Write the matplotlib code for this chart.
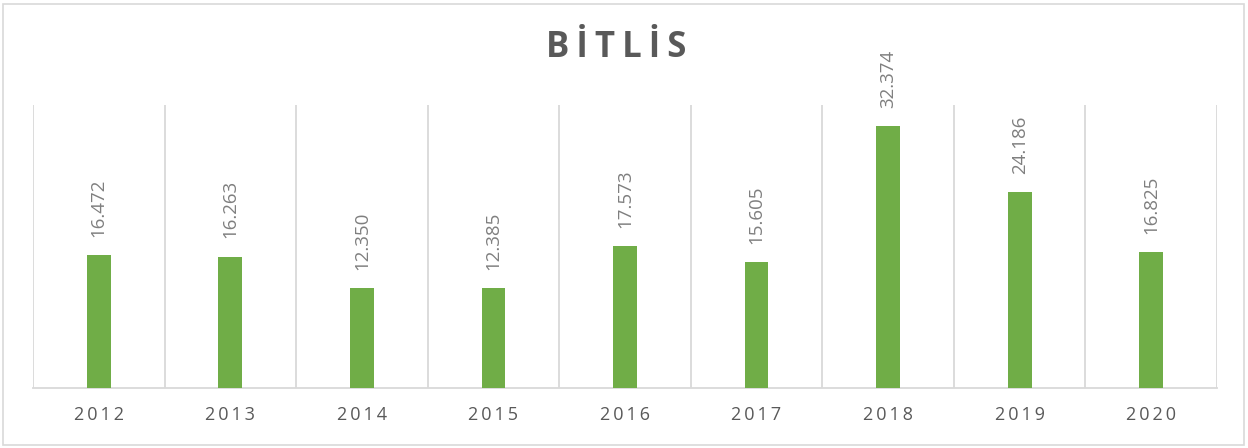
import numpy as np
import matplotlib.pyplot as plt
from matplotlib.patches import Rectangle

# -------------------- DATA --------------------
years = ["2012", "2013", "2014", "2015", "2016", "2017", "2018", "2019", "2020"]
values = [16.472, 16.263, 12.350, 12.385, 17.573, 15.605, 32.374, 24.186, 16.825]
labels = ["16.472", "16.263", "12.350", "12.385", "17.573", "15.605", "32.374", "24.186", "16.825"]

plt.rcParams.update({
    "font.family": ["Open Sans", "DejaVu Sans"],
})

fig = plt.figure(figsize=(12.48, 4.48), dpi=100)
ax = fig.add_axes([33/1248, 60/448, 1184/1248, 283/448])

# outer chart border
fig.patches.append(Rectangle((3/1248, 3/448), 1241/1248, 441/448,
                             transform=fig.transFigure, fill=False,
                             edgecolor="#d9d9d9", linewidth=1.2))

x = np.arange(len(years))
ax.bar(x, values, width=0.18, color="#70ad47", zorder=3)

for xi, v, lab in zip(x, values, labels):
    ax.annotate(lab, (xi, v), xytext=(0, 13), textcoords="offset points",
                rotation=90, ha="center", va="bottom",
                fontsize=13.5, color="#7f7f7f")

ax.set_xlim(-0.5, len(years) - 0.5)
ax.set_ylim(0, 35)

# category separators
for b in np.arange(-0.5, len(years), 1.0):
    ax.axvline(b, color="#d9d9d9", linewidth=1.3, zorder=1)

spaced = ["\u2009".join(list(y)) for y in years]
ax.set_xticks(x)
ax.set_xticklabels(spaced, fontsize=13, color="#595959")
ax.tick_params(axis="x", length=0, pad=13)
ax.set_yticks([])

for s in ["top", "left", "right"]:
    ax.spines[s].set_visible(False)
ax.spines["bottom"].set_color("#d9d9d9")
ax.spines["bottom"].set_linewidth(1.3)

fig.text(616/1248, 1 - 48/448, "\u2009".join("BİTLİS"), ha="center", va="center",
         fontsize=25, fontweight="bold", color="#595959")

fig.savefig("out.png", dpi=100)
